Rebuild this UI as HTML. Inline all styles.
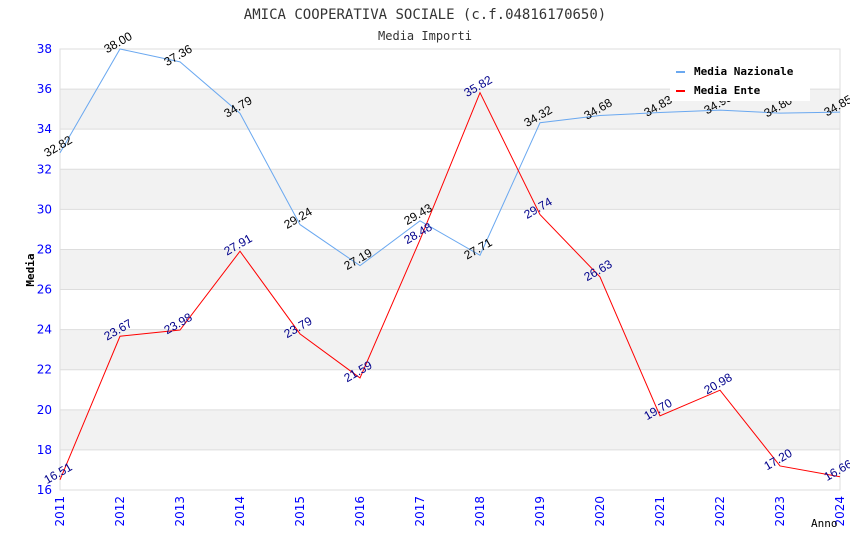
<!DOCTYPE html>
<html><head><meta charset="utf-8"><style>
body{margin:0;background:#fff;}
svg text{font-family:"DejaVu Sans Mono","Liberation Mono",monospace;}
svg text.val{font-family:"Liberation Sans","DejaVu Sans",sans-serif;}
svg text.tick{font-family:"DejaVu Sans","Liberation Sans",sans-serif;}
</style></head><body>
<svg id="chart" width="850" height="550" xmlns="http://www.w3.org/2000/svg">
<text x="425" y="19" text-anchor="middle" font-size="14" fill="#333">AMICA COOPERATIVA SOCIALE (c.f.04816170650)</text>
<text x="425" y="40" text-anchor="middle" font-size="12" fill="#333">Media Importi</text>
<g id="bands"></g><g id="grid"></g>
<rect x="60" y="49" width="780" height="441" fill="none" stroke="#ddd"/>
<g id="axes"></g><g id="series"></g>
<text transform="translate(34,270) rotate(-90)" text-anchor="middle" font-size="11" font-weight="bold" fill="#000">Media</text>
<text x="811" y="527" font-size="11" fill="#000">Anno</text>
<g>
<rect x="670" y="59" width="140" height="42" fill="#fff"/>
<rect x="676" y="71" width="9" height="2" fill="#6aa8f0"/>
<text x="694" y="75" font-size="11" font-weight="bold">Media Nazionale</text>
<rect x="676" y="90" width="9" height="2" fill="#f00"/>
<text x="694" y="94" font-size="11" font-weight="bold">Media Ente</text>
</g>
</svg>
<script>
const years=[2011,2012,2013,2014,2015,2016,2017,2018,2019,2020,2021,2022,2023,2024];
const nazionale=[32.82,38.00,37.36,34.79,29.24,27.19,29.43,27.71,34.32,34.68,34.83,34.95,34.80,34.85];
const ente=[16.51,23.67,23.98,27.91,23.79,21.59,28.48,35.82,29.74,26.63,19.70,20.98,17.20,16.66];
const yTicks=[16,18,20,22,24,26,28,30,32,34,36,38];
const NS="http://www.w3.org/2000/svg";
const x=i=>60+i*780/(years.length-1);
const y=v=>490-(v-16)*441/22;
function mk(t,a,p){const e=document.createElementNS(NS,t);for(const k in a)e.setAttribute(k,a[k]);document.getElementById(p).appendChild(e);return e;}
yTicks.forEach((t,i)=>{
 if(i<yTicks.length-1&&i%2===1){const b=mk('rect',{x:60,y:y(t+2),width:780,height:y(t)-y(t+2),fill:'#f2f2f2'},'bands');
 
 }
 const g=mk('line',{x1:60,x2:840,y1:y(t),y2:y(t),stroke:'#ddd'},'grid');
 
 
 const l=mk('text',{x:52,y:y(t)+4,'text-anchor':'end','font-size':12,fill:'#00f',class:'tick'},'axes');
 
 
 l.textContent=t;
});
years.forEach((yr,i)=>{
 const l=mk('text',{transform:`translate(${x(i)+4},496) rotate(-90)`,'text-anchor':'end','font-size':12,fill:'#00f',class:'tick'},'axes');
 
 
 l.textContent=yr;
});
function series(vals,color,lc,name){
 const p=mk('polyline',{points:vals.map((v,i)=>x(i)+','+y(v)).join(' '),fill:'none',stroke:color,'stroke-width':1},'series');
 
 
 vals.forEach((v,i)=>{
  const t=mk('text',{transform:`translate(${x(i)},${y(v)-3}) rotate(-30)`,'text-anchor':'middle','font-size':12,fill:lc,class:'val'},'series');
  
  
  t.textContent=v.toFixed(2);
 });
}
series(nazionale,'#6aa8f0','#000','nazionale');
series(ente,'#f00','#00008b','ente');
</script>
</body></html>
